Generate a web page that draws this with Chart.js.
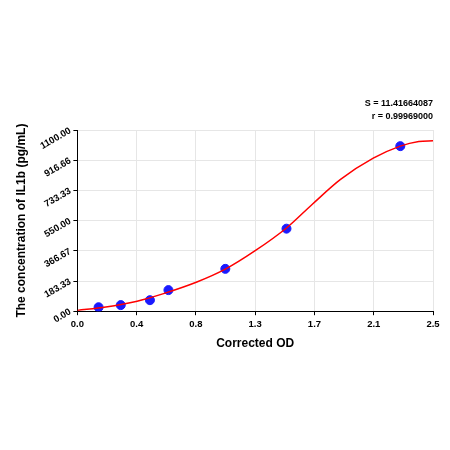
<!DOCTYPE html>
<html>
<head>
<script src="https://cdn.jsdelivr.net/npm/chart.js@4"></script>
<style>
  body { margin: 0; background: #fff; }
  #wrap { width: 450px; height: 450px; }
</style>
</head>
<body>
<div id="wrap"><canvas id="stdCurve"></canvas></div>
<script>
// measured standards
let odValues = [0.149, 0.305, 0.51, 0.64, 1.04, 1.47, 2.27];
let concValues = [24, 37, 67, 128, 257, 501, 1002];

// fitted curve
let curveOD = [0, 0.2, 0.42, 0.6, 0.84, 1.04, 1.25, 1.47, 1.65, 1.85, 2.08, 2.27, 2.4, 2.5];
let curveConc = [5, 25, 61, 105, 177, 255, 367, 505, 648, 800, 929, 1002, 1030, 1035];

let xTickLabels = ["0.0", "0.4", "0.8", "1.3", "1.7", "2.1", "2.5"];
let yTickLabels = ["0.00", "183.33", "366.67", "550.00", "733.33", "916.66", "1100.00"];

let statLines = ["S = 11.41664087", "r = 0.99969000"];

let statsPlugin = {
	id: "statsText",
	afterDraw(chart) {
		let ctx = chart.ctx;
		ctx.save();
		ctx.fillStyle = "#000";
		ctx.font = "bold 9px Arial, 'Liberation Sans', sans-serif";
		ctx.textAlign = "right";
		ctx.fillText(statLines[0], chart.chartArea.right, 106);
		ctx.fillText(statLines[1], chart.chartArea.right, 119);
		ctx.restore();
	}
};

let ctxC = document.getElementById("stdCurve").getContext("2d");
let stdChart = new Chart(ctxC, {
	type: "scatter",
	data: {
		datasets: [{
			label: "Fit",
			data: curveOD.map((x, i) => ({ x: x, y: curveConc[i] })),
			showLine: true,
			borderColor: "#ff0000",
			borderWidth: 1.5,
			pointRadius: 0,
			cubicInterpolationMode: "monotone"
		}, {
			label: "Standards",
			data: odValues.map((x, i) => ({ x: x, y: concValues[i] })),
			backgroundColor: "#1a1aff",
			borderColor: "#1a1aff",
			pointRadius: 4.5
		}]
	},
	options: {
		responsive: true,
		maintainAspectRatio: false,
		animation: false,
		layout: { padding: { top: 130, right: 17, bottom: 95, left: 10 } },
		plugins: { legend: { display: false }, tooltip: { enabled: false } },
		scales: {
			x: {
				type: "linear", min: 0, max: 2.5,
				afterBuildTicks: axis => { axis.ticks = xTickLabels.map((l, i) => ({ value: 2.5 * i / 6 })); },
				ticks: {
					callback: (v, i) => xTickLabels[i],
					color: "#000", font: { size: 9.5, weight: "bold", family: "Arial, 'Liberation Sans'" }
				},
				grid: { color: "#e6e6e6", tickColor: "#000", tickLength: 4 },
				border: { color: "#000" },
				title: { display: true, text: "Corrected OD", color: "#000", font: { size: 12, weight: "bold", family: "Arial, 'Liberation Sans'" } }
			},
			y: {
				type: "linear", min: 0, max: 1100,
				afterBuildTicks: axis => { axis.ticks = yTickLabels.map((l, i) => ({ value: 1100 * i / 6 })); },
				ticks: {
					callback: (v, i) => yTickLabels[i],
					minRotation: 30, maxRotation: 30,
					color: "#000", font: { size: 9.5, weight: "bold", family: "Arial, 'Liberation Sans'" }
				},
				grid: { color: "#e6e6e6", tickColor: "#000", tickLength: 4 },
				border: { color: "#000" },
				title: { display: true, text: "The concentration of IL1b (pg/mL)", color: "#000", font: { size: 12, weight: "bold", family: "Arial, 'Liberation Sans'" } }
			}
		}
	},
	plugins: [statsPlugin]
});
</script>
</body>
</html>
